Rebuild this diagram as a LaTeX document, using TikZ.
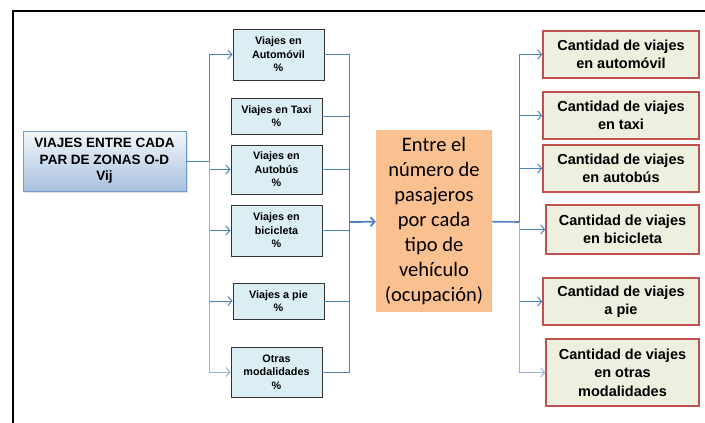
\documentclass[tikz,border=0pt]{standalone}
\usepackage{fontspec}
\setmainfont{Liberation Sans}
\newfontfamily\calibri{Carlito}
\usetikzlibrary{arrows.meta,shadows}
\definecolor{azul}{RGB}{79,129,189}
\definecolor{azulclaro}{RGB}{149,179,215}
\definecolor{celeste}{RGB}{218,238,243}
\definecolor{naranja}{RGB}{250,192,144}
\definecolor{verdeclaro}{RGB}{235,241,222}
\definecolor{rojo}{RGB}{192,80,77}
\begin{document}
\begin{tikzpicture}[x=1pt,y=-1pt,>={Straight Barb[length=4pt,width=9pt]},
  origen/.style={draw=azul!80,top color=azul!6,bottom color=azul!50,minimum width=163pt,minimum height=60pt,align=center,inner sep=0pt,font=\fontsize{13.5}{16.5}\selectfont\bfseries,drop shadow={opacity=0.25,shadow xshift=1.5pt,shadow yshift=-1.5pt}},
  modo/.style={draw=black!80,fill=celeste,line width=0.9pt,minimum width=91pt,align=center,inner sep=0pt,font=\fontsize{10.8}{13.5}\selectfont\bfseries,drop shadow={opacity=0.2,shadow xshift=1pt,shadow yshift=-1pt}},
  ocupa/.style={fill=naranja,minimum width=116pt,minimum height=182pt,align=center,inner sep=0pt,font=\calibri\fontsize{20.5}{25}\selectfont},
  cantidad/.style={draw=rojo,fill=verdeclaro,line width=1.4pt,minimum width=156pt,minimum height=47pt,align=center,inner sep=0pt,font=\fontsize{14.5}{18.5}\selectfont\bfseries},
  linea/.style={draw=azul,line width=1pt}]
\useasboundingbox (0,0) rectangle (705,423);
\draw[line width=1.5pt] (13,423) -- (13,11) -- (705,11);
\node[origen](viajes) at (104.5,161){VIAJES ENTRE CADA\\PAR DE ZONAS O-D\\Vij};
\node[modo,minimum height=51pt](m-auto) at (278.5,54.5){Viajes en\\Automóvil\\\%};
\node[modo,minimum height=36pt](m-taxi) at (276.5,116){Viajes en Taxi\\\%};
\node[modo,minimum height=49pt](m-bus) at (276.5,169.5){Viajes en\\Autobús\\\%};
\node[modo,minimum height=51pt](m-bici) at (276.5,230.5){Viajes en\\bicicleta\\\%};
\node[modo,minimum height=36pt](m-pie) at (278.5,301){Viajes a pie\\\%};
\node[modo,minimum height=50pt](m-otras) at (276.5,372){Otras\\modalidades\\\%};
\node[ocupa](ocupacion) at (434,221){Entre el\\número de\\pasajeros\\por cada\\tipo de\\vehículo\\(ocupación)};
\node[cantidad](c-auto) at (621,54.5){Cantidad de viajes\\en automóvil};
\node[cantidad](c-taxi) at (621,115.5){Cantidad de viajes\\en taxi};
\node[cantidad](c-bus) at (621,168.5){Cantidad de viajes\\en autobús};
\node[cantidad,minimum width=153pt,minimum height=49pt](c-bici) at (622.5,229.5){Cantidad de viajes\\en bicicleta};
\node[cantidad](c-pie) at (621,301.5){Cantidad de viajes\\a pie};
\node[cantidad,minimum width=153pt,minimum height=67pt](c-otras) at (622.5,372.5){Cantidad de viajes\\en otras\\modalidades};
\coordinate(bus-izq) at (209,161);
\coordinate(bus-med) at (349,222);
\coordinate(bus-der) at (519,222);
\draw[linea] (viajes) -- (bus-izq);
\draw[linea,->] (bus-izq) |- (m-auto);
\draw[linea,->] (bus-izq) |- (m-bus);
\draw[linea,->] (bus-izq) |- (m-bici);
\draw[linea,->] (bus-izq) |- (m-pie);
\draw[linea,->,draw=azulclaro] (bus-izq) |- (m-otras);
\draw[linea] (m-auto) -| (bus-med);
\draw[linea] (m-taxi) -| (bus-med);
\draw[linea] (m-bus) -| (bus-med);
\draw[linea] (m-bici) -| (bus-med);
\draw[linea] (m-pie) -| (bus-med);
\draw[linea] (m-otras) -| (bus-med);
\draw[linea,line width=1.8pt,->] (bus-med) -- (ocupacion);
\draw[linea,line width=1.6pt] (ocupacion) -- (bus-der);
\draw[linea,->] (bus-der) |- (c-auto);
\draw[linea,->] (bus-der) |- (c-taxi);
\draw[linea,->] (bus-der) |- (c-bus);
\draw[linea,->] (bus-der) |- (c-bici);
\draw[linea,->] (bus-der) |- (c-pie);
\draw[linea,->,draw=azulclaro] (bus-der) |- (c-otras);
\end{tikzpicture}
\end{document}
